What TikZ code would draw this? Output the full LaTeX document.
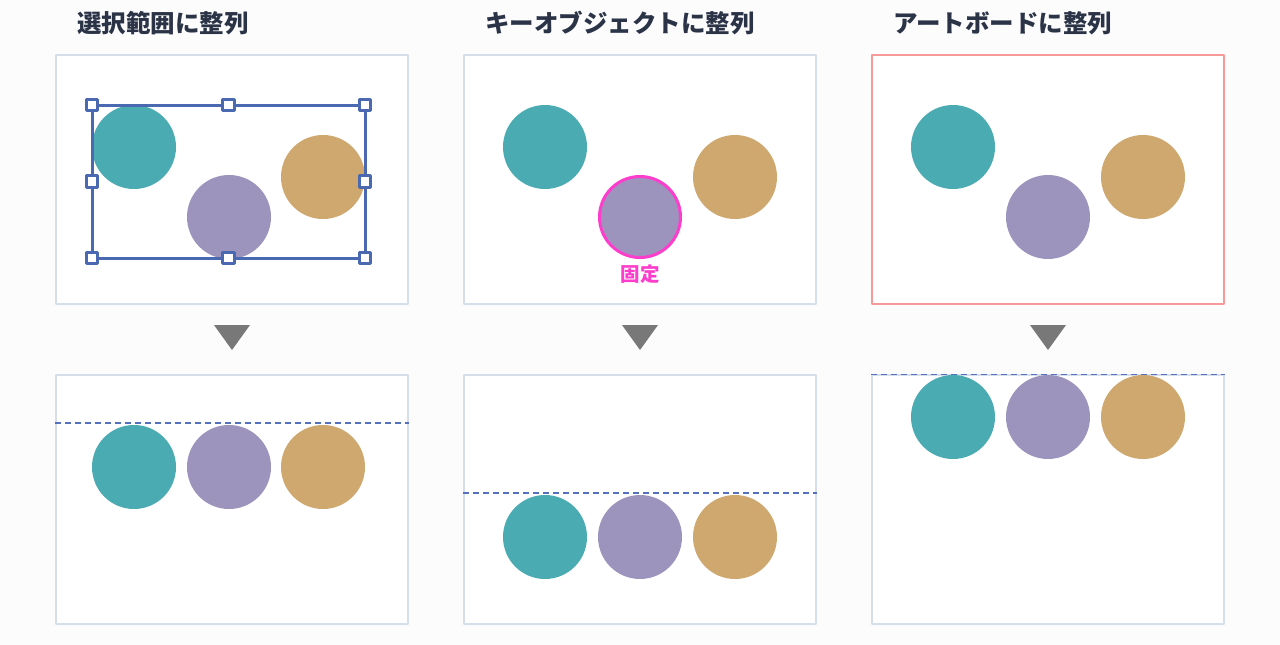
\documentclass[tikz,border=0pt]{standalone}
\usepackage{fontspec}
\newfontfamily\jpfont{Noto Sans CJK JP}
\usetikzlibrary{positioning}
\definecolor{bgcol}{rgb}{0.988,0.988,0.992}
\definecolor{titlecol}{rgb}{0.17,0.2,0.28}
\definecolor{framecol}{rgb}{0.84,0.87,0.92}
\definecolor{boardcol}{rgb}{0.96,0.6,0.6}
\definecolor{tealcol}{rgb}{0.29,0.67,0.70}
\definecolor{purplecol}{rgb}{0.61,0.58,0.74}
\definecolor{tancol}{rgb}{0.81,0.66,0.44}
\definecolor{selcol}{rgb}{0.29,0.41,0.69}
\definecolor{guidecol}{rgb}{0.33,0.44,0.75}
\definecolor{keycol}{rgb}{1.0,0.24,0.8}
\definecolor{arrowcol}{rgb}{0.47,0.47,0.47}
\tikzset{
  title/.style={anchor=west,inner sep=0pt,text=titlecol,font=\jpfont\bfseries\fontsize{24.5}{28}\selectfont},
  panel/.style={draw=framecol,line width=1.2pt,fill=white,minimum width=352pt,minimum height=249pt,inner sep=0pt},
  dot/.style={circle,minimum size=84pt,inner sep=0pt},
  selline/.style={draw=selcol,line width=3pt},
  handle/.style={draw=selcol,fill=white,line width=3.4pt,minimum size=11.5pt,inner sep=0pt},
  guide/.style={draw=guidecol,line width=1.2pt,dash pattern=on 6pt off 4pt},
  keylabel/.style={text=keycol,inner sep=0pt,font=\jpfont\bfseries\fontsize{19.5}{22}\selectfont}
}
\begin{document}
\begin{tikzpicture}[x=1pt,y=-1pt,line join=round]
\fill[bgcol] (0,0) rectangle (1280,645);
\useasboundingbox (0,0) rectangle (1280,645);

% titles
\node[title] (t1) at (77,23) {選択範囲に整列};
\node[title] (t2) at (485,23) {キーオブジェクトに整列};
\node[title] (t3) at (893,23) {アートボードに整列};

% panels
\node[panel] (p1a) at (232,179.5) {};
\node[panel] (p2a) at (640,179.5) {};
\node[panel,draw=boardcol] (p3a) at (1048,179.5) {};
\node[panel] (p1b) at (232,499.5) {};
\node[panel] (p2b) at (640,499.5) {};
\node[panel] (p3b) at (1048,499.5) {};

% before
\node[dot,fill=tealcol] (c1a) at (134,147) {};
\node[dot,fill=purplecol] (c2a) at (229,217) {};
\node[dot,fill=tancol] (c3a) at (323,177) {};

\node[dot,fill=tealcol] (k1a) at (545,147) {};
\node[dot,fill=purplecol,draw=keycol,line width=3pt,minimum size=81pt] (k2a) at (640,217) {};
\node[dot,fill=tancol] (k3a) at (735,177) {};
\node[keylabel,below=6pt of k2a] (key) {固定};

\node[dot,fill=tealcol] (b1a) at (953,147) {};
\node[dot,fill=purplecol] (b2a) at (1048,217) {};
\node[dot,fill=tancol] (b3a) at (1143,177) {};

% selection box
\coordinate (s1) at (92,105);
\coordinate (s2) at (365,258);
\draw[selline] (s1) rectangle (s2);
\foreach \i/\x/\y in {1/92/105,2/228.5/105,3/365/105,4/92/181.5,5/365/181.5,6/92/258,7/228.5/258,8/365/258}
  \node[handle] (h\i) at (\x,\y) {};

% arrows
\foreach \x in {232,640,1048}
  \fill[arrowcol] (\x-18,325) -- (\x+18,325) -- (\x,350) -- cycle;

% after
\draw[guide] (p1b.west |- 0,423) -- (p1b.east |- 0,423);
\node[dot,fill=tealcol] (c1b) at (134,467) {};
\node[dot,fill=purplecol] (c2b) at (229,467) {};
\node[dot,fill=tancol] (c3b) at (323,467) {};

\draw[guide] (p2b.west |- 0,493) -- (p2b.east |- 0,493);
\node[dot,fill=tealcol] (k1b) at (545,537) {};
\node[dot,fill=purplecol] (k2b) at (640,537) {};
\node[dot,fill=tancol] (k3b) at (735,537) {};

\draw[guide] (p3b.north west) -- (p3b.north east);
\node[dot,fill=tealcol] (b1b) at (953,417) {};
\node[dot,fill=purplecol] (b2b) at (1048,417) {};
\node[dot,fill=tancol] (b3b) at (1143,417) {};
\end{tikzpicture}
\end{document}
